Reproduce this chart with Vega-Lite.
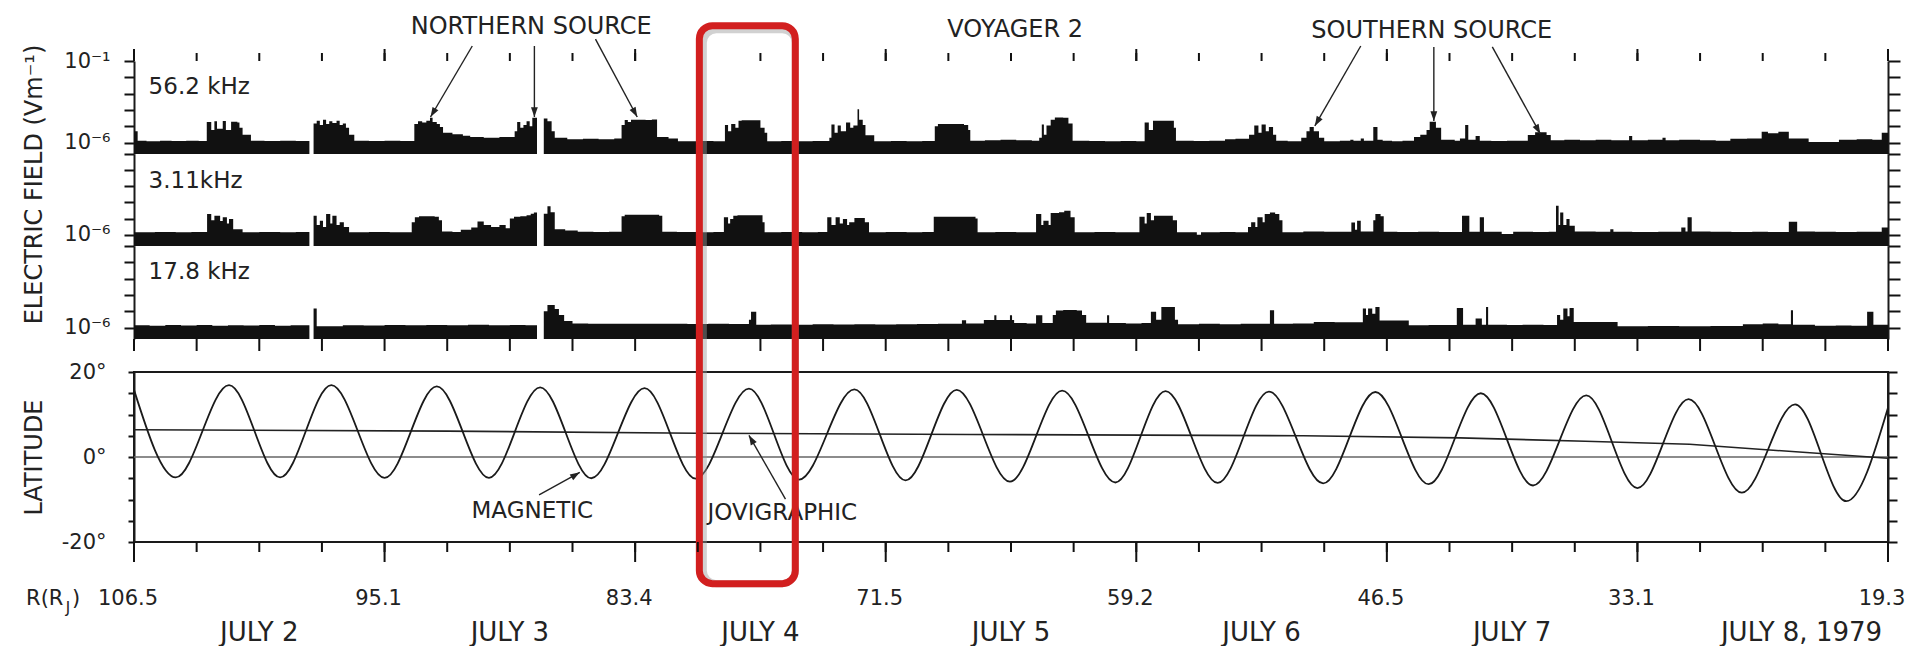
{
"$schema": "https://vega.github.io/schema/vega-lite/v6.json",
"padding": {"left": 20, "top": 15, "right": 0, "bottom": 0},
"background": "white",
"config": {
  "font": "DejaVu Sans",
  "view": {"stroke": null},
  "axis": {"grid": false, "ticks": true, "domainColor": "#1a1a1a", "domainWidth": 2, "tickColor": "#111", "tickWidth": 2, "tickOpacity": 1, "labelColor": "#222", "labelFont": "DejaVu Sans", "titleFont": "DejaVu Sans", "titleColor": "#222", "titleFontWeight": "normal", "labelFlush": false, "labelOverlap": false},
  "text": {"font": "DejaVu Sans", "color": "#222"}
},
"datasets": {
  "f56": [{"t":0,"e":5},{"t":0.35,"e":1.3},{"t":1.2,"e":1.2},{"t":2.5,"e":1.3},{"t":3.6,"e":1.25},{"t":5,"e":1.3},{"t":6.2,"e":1.25},{"t":6.97,"e":18},{"t":7.4,"e":6},{"t":7.7,"e":20},{"t":7.95,"e":7},{"t":8.5,"e":21},{"t":8.8,"e":6},{"t":9.3,"e":19},{"t":9.9,"e":17},{"t":10.1,"e":8},{"t":10.4,"e":3},{"t":11.2,"e":1.3},{"t":12.5,"e":1.25},{"t":14,"e":1.3},{"t":15.5,"e":1.25},{"t":16.8,"e":0.2},{"t":17.2,"e":15},{"t":17.5,"e":22},{"t":17.8,"e":12},{"t":18.1,"e":25},{"t":18.4,"e":14},{"t":18.7,"e":20},{"t":19,"e":16},{"t":19.4,"e":22},{"t":19.7,"e":12},{"t":20,"e":15},{"t":20.3,"e":8},{"t":20.6,"e":3},{"t":21.1,"e":1.3},{"t":22.5,"e":1.25},{"t":24,"e":1.3},{"t":25.5,"e":1.25},{"t":26.85,"e":14},{"t":27.2,"e":20},{"t":27.6,"e":17},{"t":28,"e":22},{"t":28.35,"e":33},{"t":28.6,"e":18},{"t":29,"e":14},{"t":29.3,"e":9},{"t":29.6,"e":4},{"t":30.5,"e":3.3},{"t":31.5,"e":2.6},{"t":32.2,"e":2.2},{"t":33.5,"e":2},{"t":35,"e":2.2},{"t":36.46,"e":5},{"t":36.7,"e":18},{"t":37,"e":8},{"t":37.3,"e":12},{"t":37.6,"e":20},{"t":37.9,"e":10},{"t":38.15,"e":33},{"t":38.6,"e":0.2},{"t":39.25,"e":30},{"t":39.6,"e":20},{"t":40,"e":5},{"t":40.3,"e":2},{"t":41.5,"e":1.6},{"t":43,"e":1.7},{"t":44.5,"e":1.6},{"t":46,"e":1.8},{"t":46.7,"e":12},{"t":47,"e":24},{"t":47.3,"e":18},{"t":47.6,"e":25},{"t":49,"e":24},{"t":49.6,"e":26},{"t":50.1,"e":2.2},{"t":51.2,"e":1.8},{"t":52.1,"e":1.2},{"t":54,"e":1.25},{"t":55.5,"e":1.2},{"t":56.6,"e":12},{"t":56.9,"e":5},{"t":57.2,"e":14},{"t":57.6,"e":8},{"t":57.9,"e":22},{"t":58.2,"e":23},{"t":60,"e":8},{"t":60.4,"e":4},{"t":60.65,"e":1.2},{"t":62,"e":1.25},{"t":63.5,"e":1.2},{"t":65,"e":1.25},{"t":66.6,"e":2},{"t":66.8,"e":13},{"t":67.1,"e":4},{"t":67.4,"e":11},{"t":67.7,"e":5},{"t":68.2,"e":17},{"t":68.6,"e":8},{"t":68.9,"e":11},{"t":69.3,"e":110},{"t":69.45,"e":25},{"t":69.8,"e":12},{"t":70.06,"e":2.8},{"t":70.9,"e":1.2},{"t":72.5,"e":1.25},{"t":74,"e":1.2},{"t":75.5,"e":1.25},{"t":76.7,"e":10},{"t":77,"e":14},{"t":79.5,"e":12},{"t":79.9,"e":6},{"t":80.1,"e":1.3},{"t":81.5,"e":1.4},{"t":83,"e":1.5},{"t":84.5,"e":1.4},{"t":86,"e":1.3},{"t":86.7,"e":2},{"t":86.95,"e":13},{"t":87.15,"e":3},{"t":87.4,"e":11},{"t":87.8,"e":25},{"t":88.2,"e":35},{"t":89,"e":33},{"t":89.5,"e":15},{"t":89.9,"e":1.3},{"t":91.5,"e":1.25},{"t":93,"e":1.2},{"t":94.5,"e":1.25},{"t":96,"e":1.2},{"t":96.8,"e":17},{"t":97.2,"e":6},{"t":97.6,"e":22},{"t":99.6,"e":8},{"t":99.8,"e":1.3},{"t":101.5,"e":1.25},{"t":103,"e":1.3},{"t":104.5,"e":1.6},{"t":105.5,"e":1.7},{"t":106.8,"e":3},{"t":107.3,"e":11},{"t":107.7,"e":4},{"t":108,"e":13},{"t":108.4,"e":5},{"t":108.7,"e":9},{"t":109.1,"e":3},{"t":109.4,"e":1.3},{"t":110.5,"e":1.2},{"t":111.8,"e":2},{"t":112.3,"e":5},{"t":112.6,"e":9},{"t":113,"e":5},{"t":113.5,"e":2},{"t":114,"e":1.2},{"t":115.5,"e":1.3},{"t":116.5,"e":1.5},{"t":116.8,"e":1.3},{"t":117.5,"e":1.8},{"t":117.8,"e":1.3},{"t":118.7,"e":9},{"t":119.1,"e":1.5},{"t":119.6,"e":1.3},{"t":120.5,"e":1.2},{"t":121.5,"e":1.3},{"t":122.6,"e":2.2},{"t":123.2,"e":3},{"t":123.8,"e":6},{"t":124.1,"e":19},{"t":124.7,"e":8},{"t":125.2,"e":1.5},{"t":126.5,"e":1.3},{"t":127,"e":1.8},{"t":127.5,"e":12},{"t":127.8,"e":1.5},{"t":128.5,"e":2.5},{"t":128.9,"e":1.3},{"t":130,"e":1.25},{"t":131.5,"e":1.3},{"t":133.5,"e":2.9},{"t":134.2,"e":4.3},{"t":135.3,"e":2.9},{"t":135.7,"e":1.4},{"t":137,"e":1.5},{"t":138.5,"e":1.4},{"t":140,"e":1.5},{"t":141.5,"e":1.4},{"t":143.2,"e":2.5},{"t":143.5,"e":1.4},{"t":145,"e":1.5},{"t":146.4,"e":2},{"t":146.7,"e":1.4},{"t":148,"e":1.5},{"t":150,"e":1.4},{"t":151.5,"e":1.3},{"t":152.9,"e":1.7},{"t":154.5,"e":1.8},{"t":155.9,"e":4.6},{"t":156.5,"e":3.8},{"t":157.5,"e":4.6},{"t":158.5,"e":1.8},{"t":160.4,"e":1.1},{"t":163.3,"e":1.5},{"t":165,"e":1.6},{"t":166.5,"e":1.5},{"t":167.4,"e":4},{"t":168,"e":4}],
  "f3": [{"t":0,"e":1.4},{"t":2,"e":1.45},{"t":4,"e":1.4},{"t":5.5,"e":1.45},{"t":7,"e":19},{"t":7.4,"e":8},{"t":7.7,"e":15},{"t":8.25,"e":7},{"t":8.5,"e":12},{"t":8.9,"e":5},{"t":9.1,"e":9.4},{"t":9.5,"e":2.2},{"t":10.4,"e":1.4},{"t":12,"e":1.45},{"t":14,"e":1.4},{"t":15.5,"e":1.45},{"t":16.8,"e":0.2},{"t":17.2,"e":15},{"t":17.5,"e":4},{"t":17.8,"e":7.4},{"t":18.1,"e":3},{"t":18.4,"e":19},{"t":18.8,"e":5},{"t":19,"e":15},{"t":19.4,"e":4},{"t":19.7,"e":6},{"t":20.1,"e":3},{"t":20.6,"e":1.4},{"t":22.5,"e":1.45},{"t":24.5,"e":1.4},{"t":26.6,"e":6},{"t":26.9,"e":12},{"t":27.3,"e":14},{"t":28.8,"e":13},{"t":29.2,"e":8},{"t":29.5,"e":1.6},{"t":30.5,"e":1.45},{"t":31.3,"e":2},{"t":32.3,"e":2.8},{"t":32.9,"e":6.5},{"t":33.5,"e":4},{"t":34.2,"e":3},{"t":35,"e":4},{"t":35.6,"e":2.5},{"t":36,"e":10},{"t":36.4,"e":13},{"t":37,"e":14},{"t":37.6,"e":16},{"t":38,"e":20},{"t":38.3,"e":24},{"t":38.6,"e":0.2},{"t":39.25,"e":20},{"t":39.6,"e":57},{"t":39.9,"e":25},{"t":40.3,"e":2.2},{"t":41.3,"e":1.8},{"t":42.5,"e":1.5},{"t":44,"e":1.45},{"t":45.5,"e":1.5},{"t":46.7,"e":14},{"t":47,"e":17},{"t":50.3,"e":15},{"t":50.6,"e":1.5},{"t":52,"e":1.45},{"t":54,"e":1.4},{"t":55.5,"e":1.45},{"t":56.5,"e":12},{"t":56.9,"e":5},{"t":57.1,"e":9.4},{"t":57.4,"e":15},{"t":57.8,"e":16},{"t":60.2,"e":6},{"t":60.4,"e":1.4},{"t":62,"e":1.45},{"t":64,"e":1.4},{"t":65.5,"e":1.45},{"t":66.4,"e":12},{"t":66.8,"e":4},{"t":67.2,"e":12},{"t":67.6,"e":5},{"t":67.9,"e":9.4},{"t":68.3,"e":4},{"t":68.5,"e":5.9},{"t":69,"e":11},{"t":70,"e":5.9},{"t":70.4,"e":1.4},{"t":72,"e":1.45},{"t":74,"e":1.4},{"t":75.5,"e":1.45},{"t":76.6,"e":13},{"t":80.6,"e":10},{"t":80.8,"e":1.4},{"t":82.5,"e":1.45},{"t":84.5,"e":1.4},{"t":86.4,"e":19},{"t":86.9,"e":4},{"t":87.1,"e":7.4},{"t":87.6,"e":4},{"t":87.8,"e":22},{"t":88.6,"e":25},{"t":89.1,"e":30},{"t":89.7,"e":12},{"t":90.1,"e":1.4},{"t":92,"e":1.45},{"t":94,"e":1.4},{"t":96.3,"e":13},{"t":96.8,"e":5},{"t":97,"e":22},{"t":97.4,"e":8},{"t":97.7,"e":15},{"t":99.5,"e":8},{"t":99.9,"e":1.4},{"t":101.8,"e":1},{"t":102.2,"e":1.4},{"t":104,"e":1.45},{"t":105.5,"e":1.4},{"t":106.7,"e":3},{"t":107,"e":5.9},{"t":107.4,"e":3},{"t":107.6,"e":12},{"t":108.1,"e":6},{"t":108.3,"e":19},{"t":108.8,"e":24},{"t":109.3,"e":19},{"t":109.7,"e":8},{"t":110,"e":1.4},{"t":112,"e":1.6},{"t":114,"e":1.55},{"t":116.6,"e":5.8},{"t":116.95,"e":2},{"t":117.15,"e":7.3},{"t":117.5,"e":1.6},{"t":118.7,"e":8},{"t":118.9,"e":19},{"t":119.4,"e":14},{"t":119.7,"e":1.5},{"t":121,"e":1.45},{"t":123,"e":1.5},{"t":125,"e":1.45},{"t":127.2,"e":15},{"t":127.9,"e":1.5},{"t":128.9,"e":12},{"t":129.3,"e":1.5},{"t":131,"e":1.1},{"t":132.1,"e":1.5},{"t":134,"e":1.45},{"t":135.5,"e":1.5},{"t":136.2,"e":63},{"t":136.45,"e":4},{"t":136.6,"e":24},{"t":136.9,"e":4},{"t":137.2,"e":9.5},{"t":137.5,"e":3.6},{"t":138,"e":1.6},{"t":140,"e":1.5},{"t":141.4,"e":2.2},{"t":141.7,"e":1.5},{"t":143.5,"e":1.45},{"t":146,"e":1.5},{"t":148.2,"e":2.8},{"t":148.6,"e":1.6},{"t":148.8,"e":12},{"t":149.2,"e":1.6},{"t":151,"e":1.5},{"t":153,"e":1.45},{"t":155,"e":1.5},{"t":156.5,"e":1.45},{"t":158.5,"e":6.4},{"t":159.3,"e":1.6},{"t":161,"e":1.5},{"t":163,"e":1.45},{"t":165,"e":1.5},{"t":167.4,"e":2.8},{"t":168,"e":2.8}],
  "f17": [{"t":0,"e":1.4},{"t":1.5,"e":1.3},{"t":3,"e":1.45},{"t":4.5,"e":1.35},{"t":6,"e":1.45},{"t":7.5,"e":1.3},{"t":9,"e":1.4},{"t":10.5,"e":1.35},{"t":12,"e":1.45},{"t":13.5,"e":1.3},{"t":15,"e":1.4},{"t":16.8,"e":0.2},{"t":17.2,"e":15},{"t":17.5,"e":1.2},{"t":20,"e":1.4},{"t":22,"e":1.35},{"t":24,"e":1.45},{"t":26,"e":1.4},{"t":28,"e":1.45},{"t":30,"e":1.4},{"t":32,"e":1.5},{"t":34,"e":1.4},{"t":36,"e":1.45},{"t":37.5,"e":1.4},{"t":38.6,"e":0.2},{"t":39.25,"e":10},{"t":39.6,"e":24},{"t":40.3,"e":14},{"t":40.7,"e":6},{"t":41.2,"e":2.5},{"t":42,"e":1.8},{"t":43.5,"e":1.7},{"t":45,"e":1.75},{"t":47,"e":1.7},{"t":49,"e":1.75},{"t":51,"e":1.7},{"t":53,"e":1.65},{"t":55,"e":1.7},{"t":57,"e":1.65},{"t":58.9,"e":3},{"t":59.1,"e":9.2},{"t":59.6,"e":1.5},{"t":61,"e":1.55},{"t":63,"e":1.5},{"t":65,"e":1.6},{"t":67,"e":1.55},{"t":69,"e":1.6},{"t":71,"e":1.55},{"t":73,"e":1.6},{"t":75,"e":1.65},{"t":77,"e":1.7},{"t":79.3,"e":2.8},{"t":79.7,"e":1.8},{"t":81.4,"e":2.9},{"t":82.4,"e":5.7},{"t":82.6,"e":2.9},{"t":83.9,"e":5.7},{"t":84.1,"e":2.9},{"t":84.3,"e":1.9},{"t":85.5,"e":1.8},{"t":86.4,"e":5.7},{"t":87,"e":1.9},{"t":88,"e":6},{"t":88.3,"e":11},{"t":89,"e":12},{"t":90.3,"e":11},{"t":90.8,"e":6},{"t":91.2,"e":2},{"t":93.2,"e":5.7},{"t":93.4,"e":1.9},{"t":95,"e":1.8},{"t":96.5,"e":1.9},{"t":97.4,"e":9.2},{"t":97.9,"e":3},{"t":98.4,"e":18},{"t":99.7,"e":3},{"t":100,"e":1.6},{"t":102,"e":1.7},{"t":104,"e":1.6},{"t":106,"e":1.7},{"t":108.8,"e":11.6},{"t":109.2,"e":1.7},{"t":111,"e":1.8},{"t":113,"e":2.2},{"t":115,"e":2.1},{"t":117.7,"e":14.6},{"t":118,"e":6},{"t":118.2,"e":14.6},{"t":118.6,"e":7},{"t":118.9,"e":18},{"t":119.3,"e":2.7},{"t":122.1,"e":1.4},{"t":124,"e":1.45},{"t":126.7,"e":16},{"t":127.3,"e":1.5},{"t":128.5,"e":3.6},{"t":129.1,"e":1.5},{"t":129.5,"e":18},{"t":129.7,"e":1.5},{"t":131.5,"e":1.45},{"t":133,"e":1.5},{"t":135,"e":1.45},{"t":136.3,"e":6},{"t":136.6,"e":3},{"t":136.9,"e":14.6},{"t":137.3,"e":5},{"t":137.5,"e":16},{"t":137.9,"e":2.2},{"t":142.1,"e":1.2},{"t":145,"e":1.25},{"t":148,"e":1.2},{"t":151,"e":1.25},{"t":154.1,"e":1.6},{"t":156,"e":1.8},{"t":157.5,"e":1.6},{"t":158.7,"e":11.6},{"t":158.9,"e":1.5},{"t":161,"e":1.3},{"t":163,"e":1.35},{"t":164.5,"e":1.3},{"t":166,"e":9.2},{"t":166.6,"e":1.5},{"t":168,"e":1.5}],
  "mag": [{"t":0,"lat":15.8},{"t":4.0,"lat":-4.8},{"t":9.1,"lat":16.9},{"t":14.0,"lat":-4.8},{"t":18.9,"lat":16.9},{"t":24.0,"lat":-4.9},{"t":29.0,"lat":16.6},{"t":34.0,"lat":-4.9},{"t":38.9,"lat":16.4},{"t":43.8,"lat":-5.0},{"t":48.9,"lat":16.2},{"t":53.8,"lat":-5.1},{"t":58.9,"lat":16.1},{"t":63.7,"lat":-5.3},{"t":69.0,"lat":15.9},{"t":73.9,"lat":-5.5},{"t":78.8,"lat":15.8},{"t":83.9,"lat":-5.8},{"t":88.9,"lat":15.6},{"t":94.0,"lat":-6.0},{"t":98.8,"lat":15.5},{"t":103.8,"lat":-6.1},{"t":108.7,"lat":15.4},{"t":113.9,"lat":-6.2},{"t":118.9,"lat":15.3},{"t":124.0,"lat":-6.4},{"t":129.0,"lat":15.0},{"t":134.0,"lat":-6.7},{"t":139.1,"lat":14.5},{"t":144.0,"lat":-7.3},{"t":148.9,"lat":13.6},{"t":154.0,"lat":-8.4},{"t":159.1,"lat":12.4},{"t":164.0,"lat":-10.4},{"t":168.0,"lat":11.6}],
  "jov": [{"t":0,"lat":6.4},{"t":30,"lat":6.1},{"t":54,"lat":5.6},{"t":80,"lat":5.3},{"t":112,"lat":5.0},{"t":127,"lat":4.5},{"t":139,"lat":3.7},{"t":149,"lat":3.0},{"t":157,"lat":1.6},{"t":168,"lat":-0.3}],
  "tick6": [{"t":0},{"t":6},{"t":12},{"t":18},{"t":24},{"t":30},{"t":36},{"t":42},{"t":48},{"t":54},{"t":60},{"t":66},{"t":72},{"t":78},{"t":84},{"t":90},{"t":96},{"t":102},{"t":108},{"t":114},{"t":120},{"t":126},{"t":132},{"t":138},{"t":144},{"t":150},{"t":156},{"t":162},{"t":168}],
  "tick24": [{"t":0},{"t":24},{"t":48},{"t":72},{"t":96},{"t":120},{"t":144},{"t":168}],
  "rdist": [{"t":0,"label":"106.5"},{"t":24,"label":"95.1"},{"t":48,"label":"83.4"},{"t":72,"label":"71.5"},{"t":96,"label":"59.2"},{"t":120,"label":"46.5"},{"t":144,"label":"33.1"},{"t":168,"label":"19.3"}],
  "ann_top": [{"label":"NORTHERN SOURCE","t":38.05,"e":12000000},{"label":"VOYAGER 2","t":84.4,"e":7900000},{"label":"SOUTHERN SOURCE","t":124.3,"e":6900000}],
  "arr_top": [{"t1":32.4,"e1":830000,"t2":28.4,"e2":37,"ang":210.6},{"t1":38.35,"e1":830000,"t2":38.35,"e2":37,"ang":180},{"t1":44.2,"e1":2200000,"t2":48.2,"e2":37,"ang":151.7},{"t1":117.5,"e1":830000,"t2":113.1,"e2":10.5,"ang":209.9},{"t1":124.5,"e1":730000,"t2":124.5,"e2":21,"ang":180},{"t1":130.1,"e1":730000,"t2":134.7,"e2":3.4,"ang":151.1}],
  "ann_lat": [{"label":"MAGNETIC","t":38.15,"lat":-12.7},{"label":"JOVIGRAPHIC","t":62.1,"lat":-13.2}],
  "arr_lat": [{"t1":38.8,"l1":-8.9,"t2":42.7,"l2":-3.6,"ang":59},{"t1":62.4,"l1":-9.9,"t2":58.9,"l2":5.1,"ang":330.3}],
  "days": [{"label":"JULY 2","t":12},{"label":"JULY 3","t":36},{"label":"JULY 4","t":60},{"label":"JULY 5","t":84},{"label":"JULY 6","t":108},{"label":"JULY 7","t":132}],
  "lastday": [{"label":"JULY 8, 1979","t":152}],
  "rlab": [{"label":"R(R","t":-10.34},{"label":")","t":-5.94}],
  "rsub": [{"label":"J","t":-6.32}],
  "box": [{"t1":54.15,"t2":63.34,"l1":101.5,"l2":-29.8}]
},
"spacing": 0,
"bounds": "flush",
"vconcat": [
  {"width": 1754, "height": 93, "view": {"stroke": null},
   "resolve": {"axis": {"y": "independent"}},
   "layer": [
    {"data": {"name": "f56"},
     "mark": {"type": "area", "interpolate": "step-after", "fill": "#111", "stroke": null},
     "encoding": {
      "x": {"field": "t", "type": "quantitative", "scale": {"domain": [0,168], "nice": false, "zero": false},
            "axis": {"orient": "top", "values": [0,24,48,72,96,120,144,168], "labels": false, "title": null, "tickSize": 12}},
      "y": {"field": "e", "type": "quantitative", "scale": {"type": "log", "domain": [0.2, 100000], "nice": false},
            "axis": {"orient": "left", "values": [100000,10000,1000,100,10,1], "tickSize": 10, "labelExpr": "datum.value == 1 ? '10⁻⁶' : (datum.value == 100000 ? '10⁻¹' : '')", "labelPadding": 14, "labelFontSize": 21, "title": null}},
      "y2": {"datum": 0.2}}},
    {"data": {"values": [{"t": 1.4, "e": 2570, "label": "56.2 kHz"}]},
     "mark": {"type": "text", "align": "left", "baseline": "middle", "fontSize": 23, "color": "#222"},
     "encoding": {
      "x": {"field": "t", "type": "quantitative", "scale": {"domain": [0,168], "nice": false, "zero": false}, "axis": null},
      "y": {"field": "e", "type": "quantitative", "scale": {"type": "log", "domain": [0.2, 100000], "nice": false},
            "axis": {"orient": "right", "values": [100000,10000,1000,100,10,1], "tickSize": 12, "labels": false, "title": null}},
      "text": {"field": "label"}}},
    {"data": {"name": "tick6"},
     "mark": {"type": "rule", "color": "#111", "strokeWidth": 2},
     "encoding": {
      "x": {"field": "t", "type": "quantitative", "scale": {"domain": [0,168], "nice": false, "zero": false}, "axis": null},
      "y": {"datum": 100000, "type": "quantitative", "scale": {"type": "log", "domain": [0.2, 100000], "nice": false}, "axis": null},
      "y2": {"datum": 310000}}},
    {"data": {"name": "tick24"},
     "mark": {"type": "rule", "color": "#111", "strokeWidth": 2},
     "encoding": {
      "x": {"field": "t", "type": "quantitative", "scale": {"domain": [0,168], "nice": false, "zero": false}, "axis": null},
      "y": {"datum": 100000, "type": "quantitative", "scale": {"type": "log", "domain": [0.2, 100000], "nice": false}, "axis": null},
      "y2": {"datum": 543000}}},
    {"data": {"name": "ann_top"},
     "mark": {"type": "text", "align": "center", "baseline": "middle", "fontSize": 24, "color": "#222"},
     "encoding": {
      "x": {"field": "t", "type": "quantitative", "scale": {"domain": [0,168], "nice": false, "zero": false}, "axis": null},
      "y": {"field": "e", "type": "quantitative", "scale": {"type": "log", "domain": [0.2, 100000], "nice": false}, "axis": null},
      "text": {"field": "label"}}},
    {"data": {"name": "arr_top"},
     "mark": {"type": "rule", "color": "#222", "strokeWidth": 1.4},
     "encoding": {
      "x": {"field": "t1", "type": "quantitative", "scale": {"domain": [0,168], "nice": false, "zero": false}, "axis": null},
      "y": {"field": "e1", "type": "quantitative", "scale": {"type": "log", "domain": [0.2, 100000], "nice": false}, "axis": null},
      "x2": {"field": "t2"}, "y2": {"field": "e2"}}},
    {"data": {"name": "arr_top"},
     "mark": {"type": "point", "shape": "M0,0L-0.35,1L0.35,1Z", "filled": true, "size": 380, "color": "#222", "opacity": 1},
     "encoding": {
      "x": {"field": "t2", "type": "quantitative", "scale": {"domain": [0,168], "nice": false, "zero": false}, "axis": null},
      "y": {"field": "e2", "type": "quantitative", "scale": {"type": "log", "domain": [0.2, 100000], "nice": false}, "axis": null},
      "angle": {"field": "ang", "type": "quantitative", "scale": null}}}
   ]},
  {"width": 1754, "height": 92, "view": {"stroke": null},
   "resolve": {"axis": {"y": "independent"}},
   "layer": [
    {"data": {"name": "f3"},
     "mark": {"type": "area", "interpolate": "step-after", "fill": "#111", "stroke": null},
     "encoding": {
      "x": {"field": "t", "type": "quantitative", "scale": {"domain": [0,168], "nice": false, "zero": false}, "axis": null},
      "y": {"field": "e", "type": "quantitative", "scale": {"type": "log", "domain": [0.2, 100000], "nice": false},
            "axis": {"orient": "left", "values": [100000,10000,1000,100,10,1], "tickSize": 10, "labelExpr": "datum.value == 1 ? '10⁻⁶' : ''", "labelPadding": 14, "labelFontSize": 21,
                     "title": "ELECTRIC FIELD (Vm⁻¹)", "titleFontSize": 24, "titleX": -100, "titleY": 30, "titleAngle": -90, "titleAlign": "center", "titleBaseline": "middle"}},
      "y2": {"datum": 0.2}}},
    {"data": {"values": [{"t": 1.4, "e": 2140, "label": "3.11kHz"}]},
     "mark": {"type": "text", "align": "left", "baseline": "middle", "fontSize": 23, "color": "#222"},
     "encoding": {
      "x": {"field": "t", "type": "quantitative", "scale": {"domain": [0,168], "nice": false, "zero": false}, "axis": null},
      "y": {"field": "e", "type": "quantitative", "scale": {"type": "log", "domain": [0.2, 100000], "nice": false},
            "axis": {"orient": "right", "values": [100000,10000,1000,100,10,1], "tickSize": 12, "labels": false, "title": null}},
      "text": {"field": "label"}}}
   ]},
  {"width": 1754, "height": 93, "view": {"stroke": null},
   "resolve": {"axis": {"y": "independent"}},
   "layer": [
    {"data": {"name": "f17"},
     "mark": {"type": "area", "interpolate": "step-after", "fill": "#111", "stroke": null},
     "encoding": {
      "x": {"field": "t", "type": "quantitative", "scale": {"domain": [0,168], "nice": false, "zero": false},
            "axis": {"orient": "bottom", "values": [0,6,12,18,24,30,36,42,48,54,60,66,72,78,84,90,96,102,108,114,120,126,132,138,144,150,156,162,168], "labels": false, "title": null, "tickSize": 12}},
      "y": {"field": "e", "type": "quantitative", "scale": {"type": "log", "domain": [0.2, 100000], "nice": false},
            "axis": {"orient": "left", "values": [100000,10000,1000,100,10,1], "tickSize": 10, "labelExpr": "datum.value == 1 ? '10⁻⁶' : ''", "labelPadding": 14, "labelFontSize": 21, "title": null}},
      "y2": {"datum": 0.2}}},
    {"data": {"values": [{"t": 1.4, "e": 2570, "label": "17.8 kHz"}]},
     "mark": {"type": "text", "align": "left", "baseline": "middle", "fontSize": 23, "color": "#222"},
     "encoding": {
      "x": {"field": "t", "type": "quantitative", "scale": {"domain": [0,168], "nice": false, "zero": false}, "axis": null},
      "y": {"field": "e", "type": "quantitative", "scale": {"type": "log", "domain": [0.2, 100000], "nice": false},
            "axis": {"orient": "right", "values": [100000,10000,1000,100,10,1], "tickSize": 12, "labels": false, "title": null}},
      "text": {"field": "label"}}},
    {"data": {"name": "tick6"},
     "mark": {"type": "rule", "color": "#111", "strokeWidth": 2},
     "encoding": {
      "x": {"field": "t", "type": "quantitative", "scale": {"domain": [0,168], "nice": false, "zero": false}, "axis": null},
      "y": {"datum": 0.2, "type": "quantitative", "scale": {"type": "log", "domain": [0.2, 100000], "nice": false}, "axis": null},
      "y2": {"datum": 0.0368}}}
   ]},
  {"width": 1754, "height": 33, "view": {"stroke": null},
   "data": {"values": [{"a": 0}]},
   "mark": {"type": "text", "text": ""},
   "encoding": {}},
  {"width": 1754, "height": 170, "view": {"stroke": "#1a1a1a", "strokeWidth": 2},
  "resolve": {"axis": {"y": "independent"}},
  "layer": [
   {"data": {"values": [{"lat": 0}]},
    "mark": {"type": "rule", "color": "#666", "strokeWidth": 1.5},
    "encoding": {"y": {"field": "lat", "type": "quantitative", "scale": {"domain": [-20,20], "nice": false, "zero": false}, "axis": null}}},
   {"data": {"name": "jov"},
    "mark": {"type": "line", "color": "#222", "strokeWidth": 1.6},
    "encoding": {
     "x": {"field": "t", "type": "quantitative", "scale": {"domain": [0,168], "nice": false, "zero": false}, "axis": null},
     "y": {"field": "lat", "type": "quantitative", "scale": {"domain": [-20,20], "nice": false, "zero": false},
           "axis": {"orient": "right", "values": [-20,-15,-10,-5,0,5,10,15,20], "tickSize": 9, "labels": false, "title": null}}}},
   {"data": {"name": "mag"},
    "mark": {"type": "line", "interpolate": "monotone", "color": "#1a1a1a", "strokeWidth": 1.8},
    "encoding": {
     "x": {"field": "t", "type": "quantitative", "scale": {"domain": [0,168], "nice": false, "zero": false}, "axis": null},
     "y": {"field": "lat", "type": "quantitative", "scale": {"domain": [-20,20], "nice": false, "zero": false},
           "axis": {"orient": "left", "values": [-20,-15,-10,-5,0,5,10,15,20], "tickSize": 6, "labelExpr": "datum.value % 20 === 0 ? datum.value + '°' : ''", "labelFontSize": 21, "labelPadding": 22,
                    "title": "LATITUDE", "titleFontSize": 24, "titleX": -100, "titleY": 85, "titleAngle": -90, "titleAlign": "center", "titleBaseline": "middle"}}}},
   {"data": {"name": "rdist"},
    "mark": {"type": "text", "align": "center", "baseline": "middle", "fontSize": 21, "dx": -6, "color": "#222"},
    "encoding": {
     "x": {"field": "t", "type": "quantitative", "scale": {"domain": [0,168], "nice": false, "zero": false}, "axis": null},
     "y": {"datum": -33.4, "type": "quantitative", "scale": {"domain": [-20,20], "nice": false, "zero": false}, "axis": null},
     "text": {"field": "label"}}},
   {"data": {"name": "ann_lat"},
    "mark": {"type": "text", "align": "center", "baseline": "middle", "fontSize": 23, "color": "#222"},
    "encoding": {
     "x": {"field": "t", "type": "quantitative", "scale": {"domain": [0,168], "nice": false, "zero": false}, "axis": null},
     "y": {"field": "lat", "type": "quantitative", "scale": {"domain": [-20,20], "nice": false, "zero": false}, "axis": null},
     "text": {"field": "label"}}},
   {"data": {"name": "arr_lat"},
    "mark": {"type": "rule", "color": "#222", "strokeWidth": 1.4},
    "encoding": {
     "x": {"field": "t1", "type": "quantitative", "scale": {"domain": [0,168], "nice": false, "zero": false}, "axis": null},
     "y": {"field": "l1", "type": "quantitative", "scale": {"domain": [-20,20], "nice": false, "zero": false}, "axis": null},
     "x2": {"field": "t2"}, "y2": {"field": "l2"}}},
   {"data": {"name": "arr_lat"},
    "mark": {"type": "point", "shape": "M0,0L-0.35,1L0.35,1Z", "filled": true, "size": 380, "color": "#222", "opacity": 1},
    "encoding": {
     "x": {"field": "t2", "type": "quantitative", "scale": {"domain": [0,168], "nice": false, "zero": false}, "axis": null},
     "y": {"field": "l2", "type": "quantitative", "scale": {"domain": [-20,20], "nice": false, "zero": false}, "axis": null},
     "angle": {"field": "ang", "type": "quantitative", "scale": null}}},
   {"data": {"name": "days"},
    "mark": {"type": "text", "align": "center", "baseline": "middle", "fontSize": 26, "color": "#222"},
    "encoding": {
     "x": {"field": "t", "type": "quantitative", "scale": {"domain": [0,168], "nice": false, "zero": false}, "axis": null},
     "y": {"datum": -41.4, "type": "quantitative", "scale": {"domain": [-20,20], "nice": false, "zero": false}, "axis": null},
     "text": {"field": "label"}}},
   {"data": {"name": "lastday"},
    "mark": {"type": "text", "align": "left", "baseline": "middle", "fontSize": 26, "color": "#222"},
    "encoding": {
     "x": {"field": "t", "type": "quantitative", "scale": {"domain": [0,168], "nice": false, "zero": false}, "axis": null},
     "y": {"datum": -41.4, "type": "quantitative", "scale": {"domain": [-20,20], "nice": false, "zero": false}, "axis": null},
     "text": {"field": "label"}}},
   {"data": {"name": "rlab"},
    "mark": {"type": "text", "align": "left", "baseline": "middle", "fontSize": 21, "color": "#222"},
    "encoding": {
     "x": {"field": "t", "type": "quantitative", "scale": {"domain": [0,168], "nice": false, "zero": false}, "axis": null},
     "y": {"datum": -33.4, "type": "quantitative", "scale": {"domain": [-20,20], "nice": false, "zero": false}, "axis": null},
     "text": {"field": "label"}}},
   {"data": {"name": "rsub"},
    "mark": {"type": "text", "align": "center", "baseline": "middle", "fontSize": 15, "color": "#222"},
    "encoding": {
     "x": {"field": "t", "type": "quantitative", "scale": {"domain": [0,168], "nice": false, "zero": false}, "axis": null},
     "y": {"datum": -35.5, "type": "quantitative", "scale": {"domain": [-20,20], "nice": false, "zero": false}, "axis": null},
     "text": {"field": "label"}}},
   {"data": {"name": "box"},
    "mark": {"type": "rect", "filled": false, "stroke": "#9a9a9a", "strokeOpacity": 0.45, "strokeWidth": 7, "cornerRadius": 13, "xOffset": 4, "yOffset": 4},
    "encoding": {
     "x": {"field": "t1", "type": "quantitative", "scale": {"domain": [0,168], "nice": false, "zero": false}, "axis": null},
     "x2": {"field": "t2"},
     "y": {"field": "l1", "type": "quantitative", "scale": {"domain": [-20,20], "nice": false, "zero": false}, "axis": null},
     "y2": {"field": "l2"}}},
   {"data": {"name": "box"},
    "mark": {"type": "rect", "filled": false, "stroke": "#d21f1f", "strokeWidth": 7, "cornerRadius": 13},
    "encoding": {
     "x": {"field": "t1", "type": "quantitative", "scale": {"domain": [0,168], "nice": false, "zero": false}, "axis": null},
     "x2": {"field": "t2"},
     "y": {"field": "l1", "type": "quantitative", "scale": {"domain": [-20,20], "nice": false, "zero": false}, "axis": null},
     "y2": {"field": "l2"}}}
  ]},
  {"width": 1754, "height": 20, "view": {"stroke": null},
   "layer": [
    {"data": {"name": "tick6"},
     "mark": {"type": "rule", "color": "#111", "strokeWidth": 2},
     "encoding": {
      "x": {"field": "t", "type": "quantitative", "scale": {"domain": [0,168], "nice": false, "zero": false}, "axis": null},
      "y": {"datum": 0, "type": "quantitative", "scale": {"domain": [20, 0], "nice": false, "zero": false}, "axis": null},
      "y2": {"datum": 10}}},
    {"data": {"name": "tick24"},
     "mark": {"type": "rule", "color": "#111", "strokeWidth": 2},
     "encoding": {
      "x": {"field": "t", "type": "quantitative", "scale": {"domain": [0,168], "nice": false, "zero": false}, "axis": null},
      "y": {"datum": 0, "type": "quantitative", "scale": {"domain": [20, 0], "nice": false, "zero": false}, "axis": null},
      "y2": {"datum": 20}}}
   ]}
]
}
